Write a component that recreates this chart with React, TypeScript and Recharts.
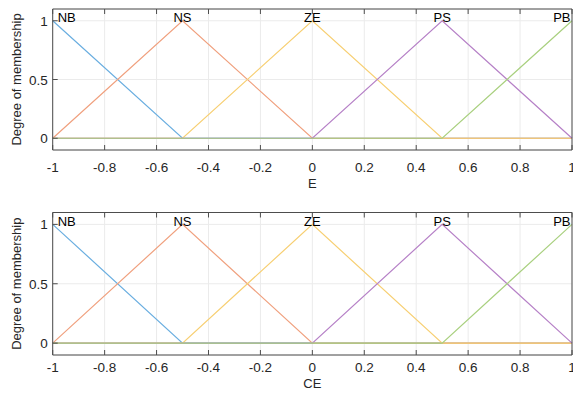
import React from 'react';
import { LineChart, Line, XAxis, YAxis, CartesianGrid, ReferenceDot, Label } from 'recharts';

const xPoints = [-1, -0.5, 0, 0.5, 1];
const nbValues = [1, 0, 0, 0, 0];
const nsValues = [0, 1, 0, 0, 0];
const zeValues = [0, 0, 1, 0, 0];
const psValues = [0, 0, 0, 1, 0];
const pbValues = [0, 0, 0, 0, 1];
const mfNames = ['NB', 'NS', 'ZE', 'PS', 'PB'];
const mfPeaks = [-1, -0.5, 0, 0.5, 1];
const xTicks = [-1, -0.8, -0.6, -0.4, -0.2, 0, 0.2, 0.4, 0.6, 0.8, 1];
const yTicks = [0, 0.5, 1];
const inputNames = ['E', 'CE'];

const colors = ['#6aaee0', '#f0a07e', '#f7cf72', '#b681c7', '#a9d07f'];
const font = '"Liberation Sans", Arial, sans-serif';
const textColor = '#262626';
const boxColor = '#4d4d4d';

const data = xPoints.map((x, i) => ({
  x,
  NB: nbValues[i],
  NS: nsValues[i],
  ZE: zeValues[i],
  PS: psValues[i],
  PB: pbValues[i],
}));

const BottomTick = ({ x, y, payload, offset }: any) => (
  <g>
    <line x1={x} y1={y} x2={x} y2={y - 5} stroke={boxColor} />
    <text x={x} y={y + offset} textAnchor="middle" fill={textColor} fontSize={13.5} fontFamily={font}>
      {String(payload.value)}
    </text>
  </g>
);

const TopTick = ({ x, y }: any) => <line x1={x} y1={y} x2={x} y2={y + 5} stroke={boxColor} />;

const LeftTick = ({ x, y, payload }: any) => (
  <g>
    <line x1={x} y1={y} x2={x + 5} y2={y} stroke={boxColor} />
    <text x={x - 5} y={y + 5} textAnchor="end" fill={textColor} fontSize={13.5} fontFamily={font}>
      {String(payload.value)}
    </text>
  </g>
);

const RightTick = ({ x, y }: any) => <line x1={x} y1={y} x2={x - 5} y2={y} stroke={boxColor} />;

const MfPlot = ({ name, top, height, marginTop, axisHeight, tickOffset, labelOffset }: any) => (
  <div style={{ position: 'absolute', left: 0, top, width: 573, height }}>
    <LineChart width={573} height={height} data={data} margin={{ top: marginTop - 1, right: 0, bottom: 0, left: 0 }}>
      <CartesianGrid stroke="#ebebeb" />
      <XAxis
        dataKey="x"
        type="number"
        domain={[-1, 1]}
        ticks={xTicks}
        height={axisHeight}
        tickSize={0}
        tickMargin={0}
        stroke={boxColor}
        tick={<BottomTick offset={tickOffset} />}
        interval={0}
      >
        <Label
          content={({ viewBox }: any) => (
            <text
              x={viewBox.x + viewBox.width / 2}
              y={viewBox.y + labelOffset}
              textAnchor="middle"
              fill={textColor}
              fontSize={13}
              fontFamily={font}
            >
              {name}
            </text>
          )}
        />
      </XAxis>
      <XAxis
        xAxisId="top"
        orientation="top"
        dataKey="x"
        type="number"
        domain={[-1, 1]}
        ticks={xTicks}
        height={1}
        tickSize={0}
        tickMargin={0}
        stroke={boxColor}
        tick={<TopTick />}
        interval={0}
      />
      <YAxis
        type="number"
        domain={[-0.1, 1.1]}
        ticks={yTicks}
        width={52.7}
        tickSize={0}
        tickMargin={0}
        stroke={boxColor}
        tick={<LeftTick />}
        interval={0}
      >
        <Label
          content={({ viewBox }: any) => {
            const cy = viewBox.y + viewBox.height / 2;
            return (
              <text
                x={21}
                y={cy}
                transform={`rotate(-90 21 ${cy})`}
                textAnchor="middle"
                fill={textColor}
                fontSize={13}
                fontFamily={font}
              >
                Degree of membership
              </text>
            );
          }}
        />
      </YAxis>
      <YAxis
        yAxisId="right"
        orientation="right"
        type="number"
        domain={[-0.1, 1.1]}
        ticks={yTicks}
        width={1}
        tickSize={0}
        tickMargin={0}
        stroke={boxColor}
        tick={<RightTick />}
        interval={0}
      />
      {mfNames.map((mf, i) => (
        <Line
          key={mf}
          type="linear"
          dataKey={mf}
          stroke={colors[i]}
          strokeWidth={1.2}
          dot={false}
          activeDot={false}
          isAnimationActive={false}
        />
      ))}
      {mfNames.map((mf, i) => (
        <ReferenceDot
          key={`lbl-${mf}`}
          x={mfPeaks[i]}
          y={1}
          r={0}
          shape={(p: any) => {
            const first = i === 0;
            const last = i === mfNames.length - 1;
            return (
              <text
                x={p.cx + (first ? 5 : last ? -1.5 : 0)}
                y={p.cy + 1.5}
                textAnchor={first ? 'start' : last ? 'end' : 'middle'}
                fill="#000"
                fontSize={13}
                fontFamily={font}
              >
                {mf}
              </text>
            );
          }}
        />
      ))}
    </LineChart>
  </div>
);

export default function App() {
  return (
    <div style={{ position: 'absolute', left: 0, top: 0, width: 573, height: 398, background: '#fff' }}>
      <MfPlot name={inputNames[0]} top={0} height={200} marginTop={9} axisHeight={50} tickOffset={22} labelOffset={38} />
      <MfPlot name={inputNames[1]} top={200} height={198} marginTop={12.5} axisHeight={43} tickOffset={17} labelOffset={33} />
    </div>
  );
}
